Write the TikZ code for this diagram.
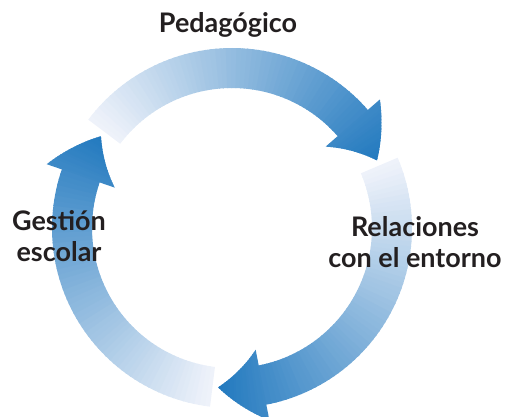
\documentclass[tikz,border=0pt]{standalone}
\usepackage{fontspec}
\setmainfont{Lato}
\usepackage{xcolor}
\definecolor{ink}{RGB}{35,31,32}
\definecolor{wheellight}{RGB}{238,242,250}
\definecolor{wheeldark}{RGB}{32,120,190}
\usepackage{tikz}
\usetikzlibrary{positioning}

\begin{document}
\begin{tikzpicture}[
    x=0.03cm, y=0.03cm,
    every node/.style={inner sep=0pt},
    tag/.style={font=\fontsize{23}{26}\selectfont\bfseries, text=ink, align=center}
]
\useasboundingbox (0,0) rectangle (509,416);

% Three arrows round the wheel, pale at the tail, blue at the head
\begin{scope}[shift={(232,188)}]
\foreach \tail in {143,23,263} {
    % body
    \foreach \i in {0,...,59} {
        \pgfmathsetmacro\a{\tail-\i*1.7}
        \pgfmathsetmacro\b{\a-2.1}
        \pgfmathtruncatemacro\p{100*\i*1.7/118}
        \fill[wheeldark!\p!wheellight] (\a:140) -- (\a:180) -- (\b:180) -- (\b:140) -- cycle;
    }
    % head
    \foreach \j in {0,...,19} {
        \pgfmathsetmacro\fa{\j*0.8}
        \pgfmathsetmacro\fb{min(16,\j*0.8+1.2)}
        \pgfmathsetmacro\a{\tail-102-\fa}
        \pgfmathsetmacro\b{\tail-102-\fb}
        \pgfmathsetmacro\ri{160-36*(1-\fa/16)}
        \pgfmathsetmacro\ro{160+36*(1-\fa/16)}
        \pgfmathsetmacro\si{160-36*(1-\fb/16)}
        \pgfmathsetmacro\so{160+36*(1-\fb/16)}
        \pgfmathtruncatemacro\p{100*(102+\fa)/118}
        \fill[wheeldark!\p!wheellight] (\a:\ri) -- (\a:\ro) -- (\b:\so) -- (\b:\si) -- cycle;
    }
}
\end{scope}

% Labels
\node[tag] (pedagogico) at (228,391) {Pedagógico};
\node[tag] (gestion) at (59,180) {Gestión\\escolar};
\node[tag] (relaciones) at (415,174) {Relaciones\\con el entorno};

\end{tikzpicture}
\end{document}
